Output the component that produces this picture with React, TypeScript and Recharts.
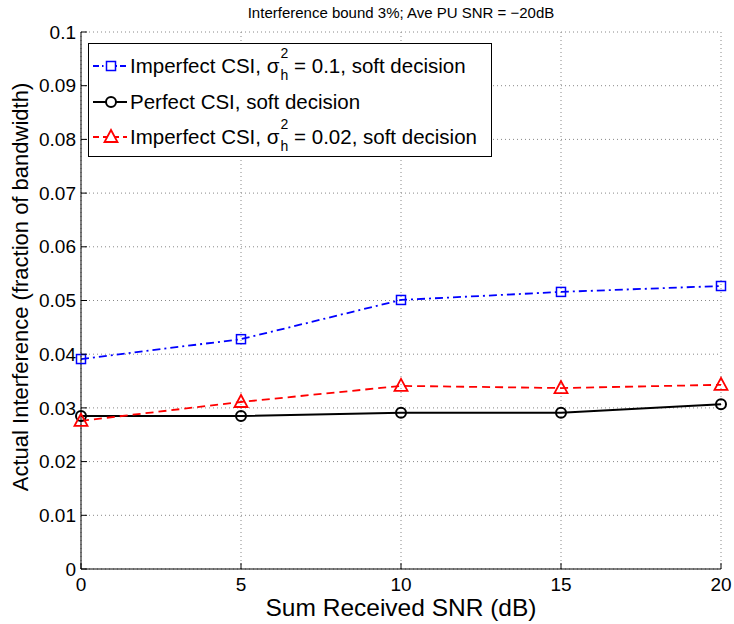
import {
  CartesianGrid,
  Line,
  LineChart,
  XAxis,
  YAxis,
} from "recharts";

const snr = [0, 5, 10, 15, 20];
const imperfect01 = [0.0391, 0.0428, 0.0501, 0.0516, 0.0527];
const perfect = [0.0285, 0.0285, 0.0291, 0.0291, 0.0307];
const imperfect002 = [0.0276, 0.0311, 0.0341, 0.0337, 0.0343];

const xTicks = [0, 5, 10, 15, 20];
const yTicks = [0, 0.01, 0.02, 0.03, 0.04, 0.05, 0.06, 0.07, 0.08, 0.09, 0.1];

const data = snr.map((s, i) => ({
  snr: s,
  imp01: imperfect01[i],
  perf: perfect[i],
  imp002: imperfect002[i],
}));

const FONT = "'Liberation Sans', Arial, sans-serif";

const Square = (p: any) => (
  <rect key={p.index} x={p.cx - 4.5} y={p.cy - 4.5} width={9} height={9} fill="none" stroke="#0000ff" strokeWidth={1.5} />
);
const Circle = (p: any) => (
  <circle key={p.index} cx={p.cx} cy={p.cy} r={5} fill="none" stroke="#000" strokeWidth={2} />
);
const Triangle = (p: any) => (
  <polygon
    key={p.index}
    points={`${p.cx},${p.cy - 7} ${p.cx - 6.5},${p.cy + 5} ${p.cx + 6.5},${p.cy + 5}`}
    fill="none"
    stroke="#ff0000"
    strokeWidth={1.8}
  />
);

const BottomTick = (p: any) => (
  <g>
    <line x1={p.x} x2={p.x} y1={p.y - 9} y2={p.y - 15} stroke="#000" />
    <text x={p.x} y={p.y} dy="0.71em" textAnchor="middle" fontSize={19} fontFamily={FONT} fill="#000">
      {p.payload.value}
    </text>
  </g>
);
const LeftTick = (p: any) => (
  <g>
    <line x1={p.x + 5} x2={p.x + 11} y1={p.y} y2={p.y} stroke="#000" />
    <text x={p.x} y={p.y} dy="0.35em" textAnchor="end" fontSize={19} fontFamily={FONT} fill="#000">
      {String(p.payload.value)}
    </text>
  </g>
);
const TopTick = (p: any) => <line x1={p.x} x2={p.x} y1={p.y} y2={p.y + 6} stroke="#000" />;
const RightTick = (p: any) => <line x1={p.x} x2={p.x - 6} y1={p.y} y2={p.y} stroke="#000" />;

const SigmaH2 = () => (
  <>
    <span style={{ position: "relative" }}>
      σ
      <span style={{ position: "absolute", left: "100%", top: -9, fontSize: 14, paddingLeft: 1 }}>2</span>
      <span style={{ position: "absolute", left: "100%", top: 13, fontSize: 14, paddingLeft: 1 }}>h</span>
    </span>
    <span style={{ display: "inline-block", width: 9 }} />
  </>
);

const legendRows = [
  { color: "#0000ff", dash: "6 3 1.5 3", marker: "square", label: (<>Imperfect CSI, <SigmaH2 /> = 0.1, soft decision</>) },
  { color: "#000000", dash: "", marker: "circle", label: <>Perfect CSI, soft decision</> },
  { color: "#ff0000", dash: "6 4", marker: "triangle", label: (<>Imperfect CSI, <SigmaH2 /> = 0.02, soft decision</>) },
];

function LegendBox() {
  return (
    <div
      style={{
        position: "absolute",
        left: 88,
        top: 43,
        width: 402,
        height: 112,
        border: "1px solid #000",
        background: "#fff",
        fontFamily: FONT,
        fontSize: 20.5,
        color: "#000",
      }}
    >
      {legendRows.map((r, i) => (
        <div key={i} style={{ position: "absolute", left: 0, top: 4.5 + i * 35.5, height: 35, display: "flex", alignItems: "center", whiteSpace: "nowrap" }}>
          <svg width={41} height={20} style={{ flex: "none" }}>
            <line x1={4} x2={38} y1={10} y2={10} stroke={r.color} strokeWidth={r.marker === "circle" ? 2 : 1.8} strokeDasharray={r.dash} />
            {r.marker === "square" && <rect x={17.5} y={5.5} width={9} height={9} fill="#fff" stroke={r.color} strokeWidth={1.5} />}
            {r.marker === "circle" && <circle cx={22} cy={10} r={5} fill="#fff" stroke={r.color} strokeWidth={2} />}
            {r.marker === "triangle" && <polygon points="22,3 15.5,15 28.5,15" fill="#fff" stroke={r.color} strokeWidth={1.8} />}
          </svg>
          <span>{r.label}</span>
        </div>
      ))}
    </div>
  );
}

export default function App() {
  return (
    <div style={{ position: "absolute", left: 0, top: 0, width: 734, height: 624, background: "#fff" }}>
      <div
        style={{
          position: "absolute",
          left: 0,
          width: 734,
          top: 4,
          textAlign: "center",
          paddingLeft: 68,
          boxSizing: "border-box",
          fontFamily: FONT,
          fontSize: 15,
        }}
      >
        Interference bound 3%; Ave PU SNR = −20dB
      </div>
      <LineChart width={734} height={624} data={data} margin={{ top: 32, right: 13, left: 0, bottom: 0 }}>
        <CartesianGrid stroke="#888" strokeDasharray="1 3" />
        <XAxis
          dataKey="snr"
          type="number"
          domain={[0, 20]}
          ticks={xTicks}
          height={55}
          tickSize={0}
          tickMargin={9}
          tickLine={false}
          tick={BottomTick}
          axisLine={{ stroke: "#000" }}
          label={{
            content: () => (
              <text x={401} y={616} textAnchor="middle" fontSize={24.5} fontFamily={FONT} fill="#000">
                Sum Received SNR (dB)
              </text>
            ),
          }}
        />
        <XAxis
          xAxisId="top"
          orientation="top"
          type="number"
          domain={[0, 20]}
          ticks={xTicks}
          height={0}
          tickSize={0}
          tickLine={false}
          tick={TopTick}
          axisLine={{ stroke: "#000" }}
        />
        <YAxis
          type="number"
          domain={[0, 0.1]}
          ticks={yTicks}
          width={81}
          tickSize={0}
          tickMargin={5}
          tickLine={false}
          tick={LeftTick}
          axisLine={{ stroke: "#000" }}
          label={{
            content: () => (
              <text
                transform="translate(28,287) rotate(-90)"
                textAnchor="middle"
                fontSize={22}
                fontFamily={FONT}
                fill="#000"
              >
                Actual Interference (fraction of bandwidth)
              </text>
            ),
          }}
        />
        <YAxis
          yAxisId="right"
          orientation="right"
          type="number"
          domain={[0, 0.1]}
          ticks={yTicks}
          width={0}
          tickSize={0}
          tickLine={false}
          tick={RightTick}
          axisLine={{ stroke: "#000" }}
        />
        <Line
          type="linear"
          dataKey="imp01"
          stroke="#0000ff"
          strokeWidth={1.8}
          strokeDasharray="8 4 2 4"
          dot={Square}
          isAnimationActive={false}
        />
        <Line
          type="linear"
          dataKey="perf"
          stroke="#000"
          strokeWidth={2}
          dot={Circle}
          isAnimationActive={false}
        />
        <Line
          type="linear"
          dataKey="imp002"
          stroke="#ff0000"
          strokeWidth={1.8}
          strokeDasharray="8 5"
          dot={Triangle}
          isAnimationActive={false}
        />
      </LineChart>
      <LegendBox />
    </div>
  );
}
